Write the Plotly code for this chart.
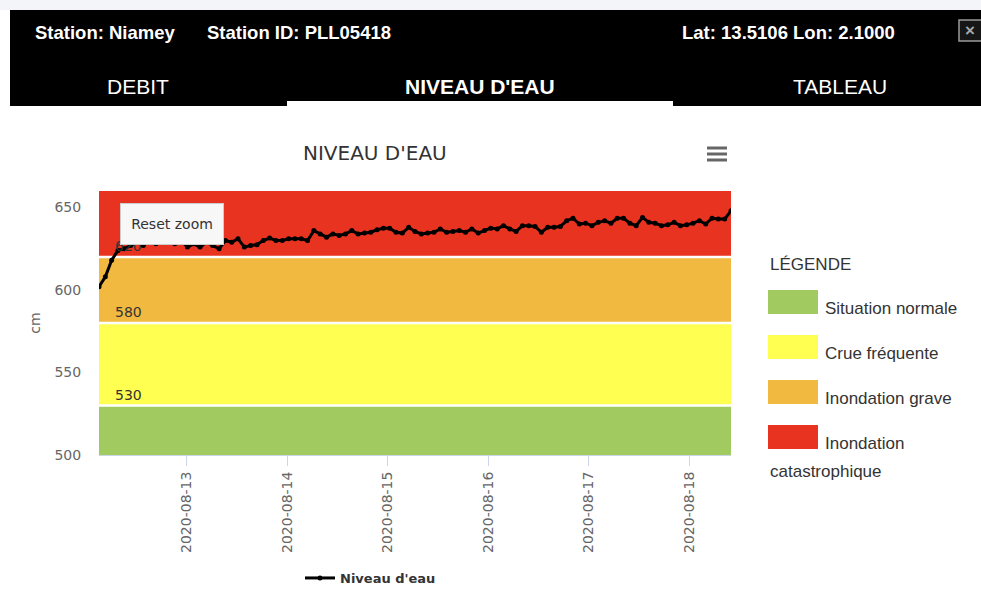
import pandas as pd
import plotly.graph_objects as go

# ---------------- data ----------------
levels = [602, 608, 618, 624, 625, 627, 629, 627, 630, 628,
          631, 629, 628, 630, 626, 628, 626, 629, 627, 625,
          630, 629, 631, 626, 627, 627.5, 630, 631.5, 630, 630,
          631, 631, 631, 630, 636, 634, 632, 634, 633, 634,
          636, 634, 634.5, 635, 636.5, 637.5, 637.5, 635, 634.5, 638,
          635.5, 634, 634.5, 635, 637, 635, 635.5, 636, 635, 637,
          634.5, 636, 637.5, 637, 639, 637, 635.5, 639, 639, 638.5,
          635, 638, 638, 638.5, 642, 643.5, 640, 640.5, 639, 641,
          642, 640.5, 643.5, 643.5, 640.5, 639, 644, 641, 640.5, 639,
          639.5, 641, 639, 639.5, 640.5, 642, 640, 643.5, 643, 643,
          648]
start_time = "2020-08-12 03:00"
end_time = "2020-08-18 10:00"
times = pd.date_range(start_time, end_time, periods=len(levels))

band_names = ["Situation normale", "Crue fréquente", "Inondation grave", "Inondation catastrophique"]
band_from = [500, 530, 580, 620]
band_to = [530, 580, 620, 660]
band_colors = ["#a1cb61", "#ffff52", "#f2b940", "#e7331f"]
band_labels = ["", "530", "580", "620"]
y_ticks = [500, 550, 600, 650]

station = "Station: Niamey"
station_id = "Station ID: PLL05418"
latlon = "Lat: 13.5106 Lon: 2.1000"
tabs = ["DEBIT", "NIVEAU D'EAU", "TABLEAU"]

W, H = 981, 589
L, R, T, B = 99, 731, 191, 455


def PX(X):
    return (X - L) / (R - L)


def PY(Y):
    return (B - Y) / (B - T)


CH = "DejaVu Sans"
AR = "Liberation Sans"

fig = go.Figure()
fig.add_trace(go.Scatter(
    x=times, y=levels, mode="lines+markers", name="Niveau d'eau",
    line=dict(color="black", width=3), marker=dict(color="black", size=5),
    hoverinfo="skip"))

shapes = []
annotations = []

# plot bands
for f, t, c in zip(band_from, band_to, band_colors):
    shapes.append(dict(type="rect", xref="paper", yref="y", x0=0, x1=1, y0=f, y1=t,
                       fillcolor=c, line=dict(width=0), layer="below"))
for f in band_from[1:]:
    shapes.append(dict(type="line", xref="paper", yref="y", x0=0, x1=1, y0=f, y1=f,
                       line=dict(color="white", width=2.5), layer="below"))
for f, lab in zip(band_from, band_labels):
    if lab:
        annotations.append(dict(xref="paper", yref="y", x=PX(113), y=f, text=lab,
                                xanchor="left", yanchor="bottom", yshift=1, showarrow=False,
                                font=dict(family=CH, size=14, color="#333333")))

# header
shapes += [
    dict(type="rect", xref="paper", yref="paper", x0=PX(0), x1=PX(985), y0=PY(0), y1=PY(10),
         fillcolor="#f3f5f9", line=dict(width=0)),
    dict(type="rect", xref="paper", yref="paper", x0=PX(10), x1=PX(985), y0=PY(10), y1=PY(106),
         fillcolor="black", line=dict(width=0)),
    dict(type="rect", xref="paper", yref="paper", x0=PX(287), x1=PX(673), y0=PY(101), y1=PY(106),
         fillcolor="white", line=dict(width=0)),
    dict(type="rect", xref="paper", yref="paper", x0=PX(959), x1=PX(990), y0=PY(20), y1=PY(41),
         fillcolor="#161616", line=dict(color="#9a9a9a", width=1.5)),
]
for txt, xx in [(station, 33), (station_id, 205), (latlon, 680)]:
    annotations.append(dict(xref="paper", yref="paper", x=PX(xx), y=PY(32), text="<b>%s</b>" % txt,
                            xanchor="left", yanchor="middle", showarrow=False,
                            font=dict(family=AR, size=18.5, color="white")))
annotations.append(dict(xref="paper", yref="paper", x=PX(970), y=PY(30), text="<b>×</b>",
                        xanchor="center", yanchor="middle", showarrow=False,
                        font=dict(family=AR, size=17, color="#a8a8a8")))
for txt, xx, bold in [(tabs[0], 138, False), (tabs[1], 480, True), (tabs[2], 840, False)]:
    annotations.append(dict(xref="paper", yref="paper", x=PX(xx), y=PY(86),
                            text=("<b>%s</b>" % txt) if bold else txt,
                            xanchor="center", yanchor="middle", showarrow=False,
                            font=dict(family=AR, size=21, color="white")))

# chart title and menu icon
annotations.append(dict(xref="paper", yref="paper", x=PX(375), y=PY(153), text="NIVEAU D'EAU",
                        xanchor="center", yanchor="middle", showarrow=False,
                        font=dict(family=CH, size=20, color="#333333")))
for yy in [148, 154, 160]:
    shapes.append(dict(type="line", xref="paper", yref="paper", x0=PX(707), x1=PX(727),
                       y0=PY(yy), y1=PY(yy), line=dict(color="#666666", width=3)))

# reset zoom button
annotations.append(dict(xref="paper", yref="paper", x=PX(172), y=PY(224), text="Reset zoom",
                        xanchor="center", yanchor="middle", showarrow=False,
                        width=96, height=34, borderpad=3, borderwidth=1,
                        bgcolor="#f7f7f7", bordercolor="#cccccc",
                        font=dict(family=CH, size=14, color="#333333")))

# right-hand legend
annotations.append(dict(xref="paper", yref="paper", x=PX(768), y=PY(264), text="LÉGENDE",
                        xanchor="left", yanchor="middle", showarrow=False,
                        font=dict(family=AR, size=17, color="#333333")))
box_tops = [290, 335, 380, 425]
for i, (c, yt) in enumerate(zip(band_colors, box_tops)):
    shapes.append(dict(type="rect", xref="paper", yref="paper", x0=PX(768), x1=PX(818),
                       y0=PY(yt), y1=PY(yt + 24), fillcolor=c, line=dict(width=0)))
    name = band_names[i]
    first = name if i < 3 else "Inondation"
    annotations.append(dict(xref="paper", yref="paper", x=PX(823), y=PY(yt + 18), text=first,
                            xanchor="left", yanchor="middle", showarrow=False,
                            font=dict(family=AR, size=17, color="#333333")))
annotations.append(dict(xref="paper", yref="paper", x=PX(768), y=PY(471), text="catastrophique",
                        xanchor="left", yanchor="middle", showarrow=False,
                        font=dict(family=AR, size=17, color="#333333")))

fig.update_layout(
    width=W, height=H,
    margin=dict(l=L, r=W - R, t=T, b=H - B, autoexpand=False),
    paper_bgcolor="white", plot_bgcolor="rgba(0,0,0,0)",
    shapes=shapes, annotations=annotations,
    showlegend=True,
    legend=dict(orientation="h", x=PX(300), y=PY(578), xanchor="left", yanchor="middle",
                font=dict(family=CH, size=13, color="#333333", weight="bold"),
                bgcolor="rgba(0,0,0,0)"),
    xaxis=dict(range=[times[0], times[-1]], type="date", dtick=86400000,
               tick0="2020-08-13", tickformat="%Y-%m-%d", tickangle=-90,
               ticks="outside", ticklen=10, tickcolor="#ccd6eb", showgrid=False,
               showline=True, linecolor="#ccd6eb", linewidth=1, zeroline=False,
               tickfont=dict(family=CH, size=14, color="#666666"), automargin=False),
    yaxis=dict(range=[500, 660], tickvals=y_ticks, showgrid=False, zeroline=False,
               ticks="outside", ticklen=14, tickcolor="rgba(0,0,0,0)",
               tickfont=dict(family=CH, size=14, color="#666666"),
               title=dict(text="cm", standoff=10, font=dict(family=CH, size=14, color="#666666")),
               automargin=False),
)

fig.write_html("out.html", config={"displayModeBar": False},
               post_script="document.body.style.margin='0px';document.body.style.overflow='hidden';")
